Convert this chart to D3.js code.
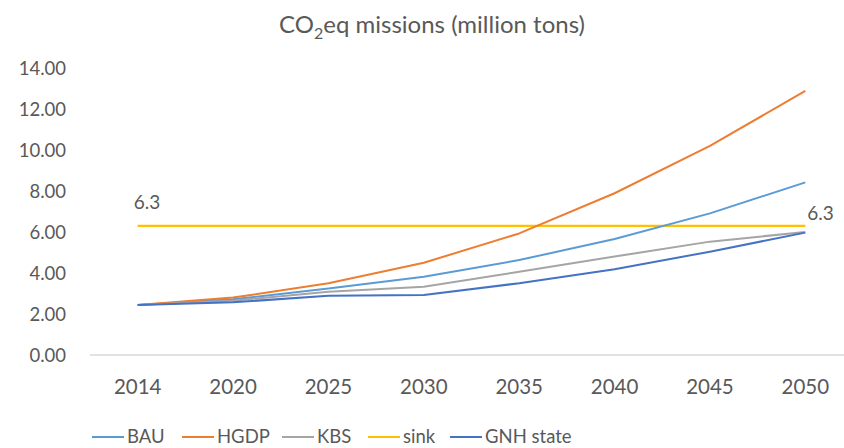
<!DOCTYPE html>
<html><head><meta charset="utf-8">
<script src="https://cdn.jsdelivr.net/npm/d3@7"></script>
<style>body{margin:0;background:#fff;} text{font-family:Lato,"Open Sans",sans-serif;fill:#595959;}</style>
</head><body><svg id="c" width="844" height="448"></svg>
<script>
const years = ["2014","2020","2025","2030","2035","2040","2045","2050"];
const bau  = [2.44, 2.72, 3.24, 3.82, 4.63, 5.66, 6.91, 8.42];
const hgdp = [2.44, 2.80, 3.50, 4.50, 5.93, 7.89, 10.20, 12.88];
const kbs  = [2.44, 2.65, 3.09, 3.33, 4.06, 4.80, 5.53, 6.00];
const sink = [6.3, 6.3, 6.3, 6.3, 6.3, 6.3, 6.3, 6.3];
const gnh  = [2.44, 2.57, 2.89, 2.93, 3.50, 4.18, 5.04, 5.97];
const yTicks = [0, 2, 4, 6, 8, 10, 12, 14];
const seriesNames = ["BAU", "HGDP", "KBS", "sink", "GNH state"];
const seriesColors = ["#5B9BD5", "#ED7D31", "#A5A5A5", "#FFC000", "#4472C4"];

const seriesData = [bau, hgdp, kbs, sink, gnh];
const svg = d3.select("#c");
const x = d3.scaleBand().domain(years).range([90, 853]);
const y = d3.scaleLinear().domain([0, 14]).range([355, 68]);
const cx = d => x(d) + x.bandwidth() / 2;

// title
const title = svg.append("text").attr("x", 432).attr("y", 33).attr("text-anchor", "middle").style("font-size", "24px");
title.append("tspan").text("CO");
title.append("tspan").text("2").attr("dy", 6).style("font-size", "16px");
title.append("tspan").text("eq missions (million tons)").attr("dy", -6);

// y axis labels
const yAxis = d3.axisLeft(y).tickValues(yTicks).tickFormat(d3.format(".2f")).tickSize(0).tickPadding(0);
const ya = svg.append("g").attr("transform", "translate(66,0)").call(yAxis);
ya.select(".domain").remove();
ya.selectAll("text").style("font-size", "18.5px").attr("fill", "#595959").attr("dy", "0.35em");

// baseline
svg.append("line").attr("x1", 90).attr("x2", 853).attr("y1", y(0)).attr("y2", y(0)).attr("stroke", "#D9D9D9").attr("stroke-width", 1.5);

// x axis labels
const xAxis = d3.axisBottom(x).tickSize(0).tickPadding(0);
const xa = svg.append("g").attr("transform", "translate(0,387)").call(xAxis);
xa.select(".domain").remove();
xa.selectAll("text").style("font-size", "20.5px").attr("fill", "#595959").attr("dy", "0.35em");

// lines
const line = d3.line().x((d, i) => cx(years[i])).y(d => y(d));
const order = [3, 0, 1, 2, 4];
order.forEach(k => {
  svg.append("path").datum(seriesData[k]).attr("d", line).attr("fill", "none")
    .attr("stroke", seriesColors[k]).attr("stroke-width", k === 3 ? 2.25 : 2).attr("stroke-linejoin", "round");
});

// sink labels
svg.append("text").attr("x", cx(years[0]) - 4).attr("y", y(sink[0]) - 24).attr("dy", "0.35em").style("font-size", "19px").text(sink[0].toFixed(1));
svg.append("text").attr("x", cx(years[7]) + 2).attr("y", y(sink[7]) - 13).attr("dy", "0.35em").style("font-size", "19px").text(sink[7].toFixed(1));

// legend
const legX = [92, 182, 282, 368, 450];
seriesNames.forEach((n, i) => {
  const g = svg.append("g").attr("transform", `translate(${legX[i]},437)`);
  g.append("line").attr("x1", 0).attr("x2", 32).attr("stroke", seriesColors[i]).attr("stroke-width", 2);
  g.append("text").attr("x", 35).attr("dy", "0.35em").style("font-size", "18.5px").text(n);
});
</script></body></html>
